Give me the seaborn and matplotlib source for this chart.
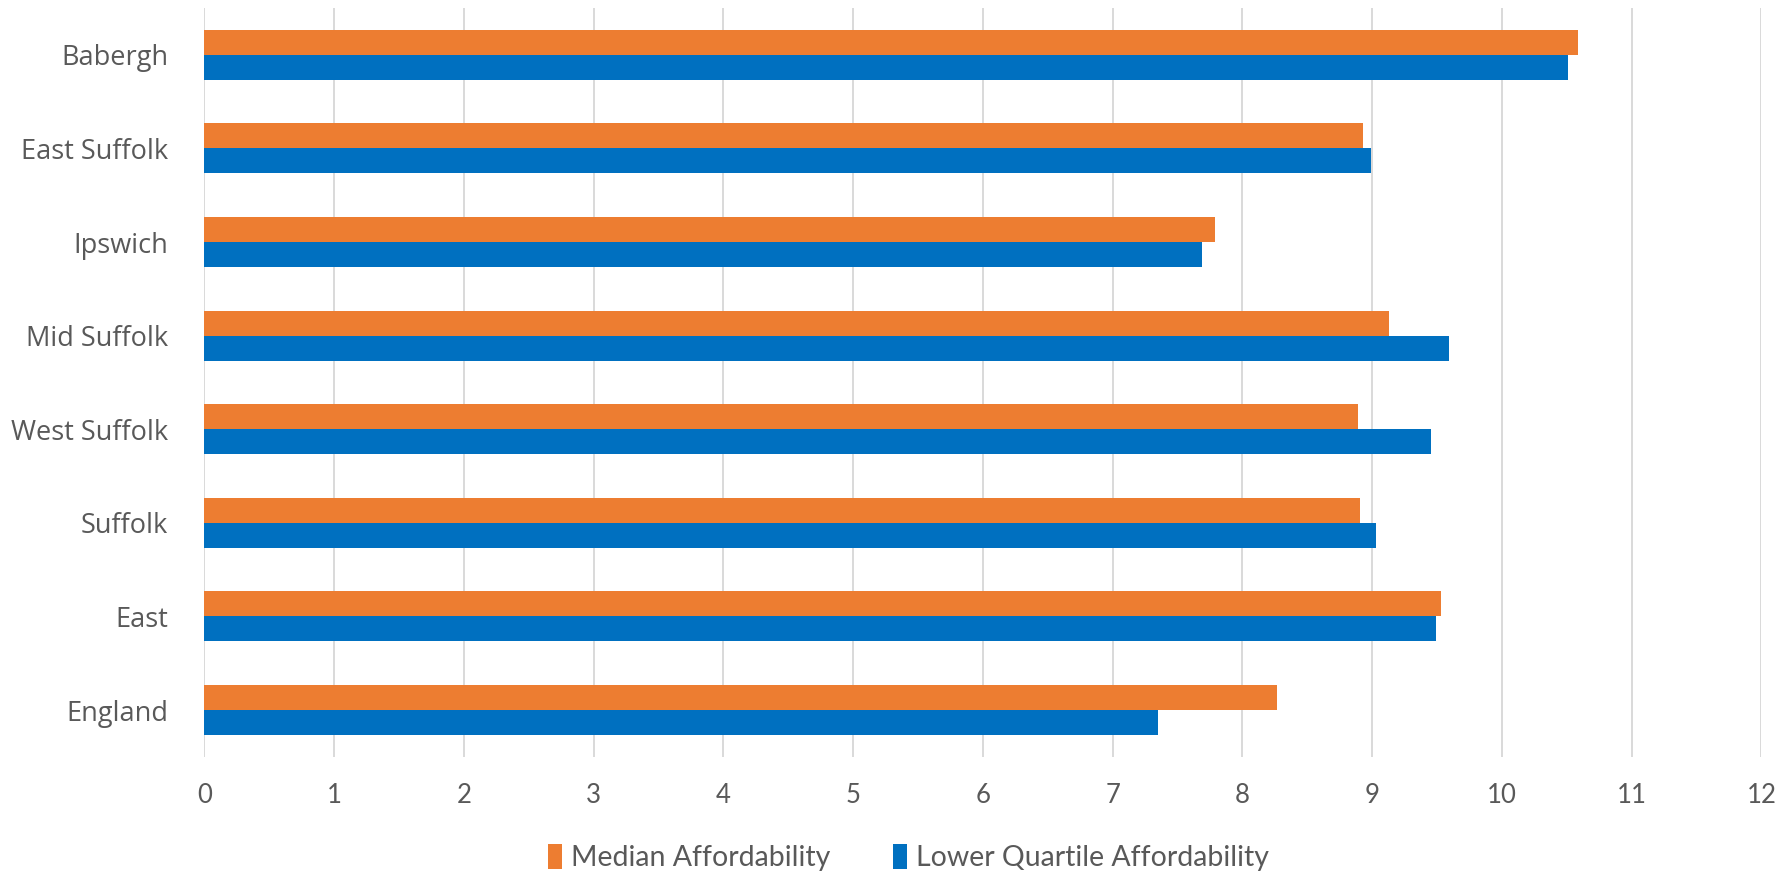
import pandas as pd
import matplotlib.pyplot as plt
import seaborn as sns

# Categories and series values
areas = ["Babergh", "East Suffolk", "Ipswich", "Mid Suffolk",
         "West Suffolk", "Suffolk", "East", "England"]
median_afford = [10.59, 8.93, 7.79, 9.13, 8.89, 8.91, 9.53, 8.27]
lower_quartile_afford = [10.51, 8.99, 7.69, 9.59, 9.45, 9.03, 9.49, 7.35]
series_names = ["Median Affordability", "Lower Quartile Affordability"]
x_ticks = list(range(0, 13))

df = pd.DataFrame({
    "Area": areas * 2,
    "Ratio": median_afford + lower_quartile_afford,
    "Series": [series_names[0]] * len(areas) + [series_names[1]] * len(areas),
})

sns.set_style("white")
plt.rcParams['font.family'] = ['Lato', 'DejaVu Sans']

fig = plt.figure(figsize=(17.81, 8.73), dpi=100)
ax = fig.add_axes([0.1147, 0.133, 0.8743, 0.8578])

palette = {series_names[0]: '#ED7D31', series_names[1]: '#0070C0'}
sns.barplot(data=df, y="Area", x="Ratio", hue="Series", order=areas,
            hue_order=series_names, palette=palette, orient='h',
            width=0.534, saturation=1, edgecolor='none', ax=ax, zorder=3)

ax.set_xlim(0, 12)
ax.set_xticks(x_ticks)
ax.set_xticklabels([str(t) for t in x_ticks])
ax.set_ylim(len(areas) - 0.5, -0.5)
ax.grid(axis='x', color='#D9D9D9', linewidth=1.4, zorder=0)
ax.grid(axis='y', visible=False)
for s in ax.spines.values():
    s.set_visible(False)

ax.tick_params(axis='x', length=0, pad=19, labelsize=18.5, labelcolor='#595959')
ax.tick_params(axis='y', length=0, pad=26, labelcolor='#595959')
for lab in ax.get_yticklabels():
    lab.set_fontfamily(['Open Sans', 'DejaVu Sans'])
    lab.set_fontsize(19.5)
ax.set_xlabel('')
ax.set_ylabel('')

ax.legend_.remove()
handles, labels = ax.get_legend_handles_labels()
fig.legend(handles, labels, loc='center', bbox_to_anchor=(0.51, 0.018),
           ncol=2, frameon=False, fontsize=20.5, labelcolor='#595959',
           handlelength=0.5, handleheight=1.0, handletextpad=0.3,
           columnspacing=2.2)

fig.savefig("out.png", dpi=100)
